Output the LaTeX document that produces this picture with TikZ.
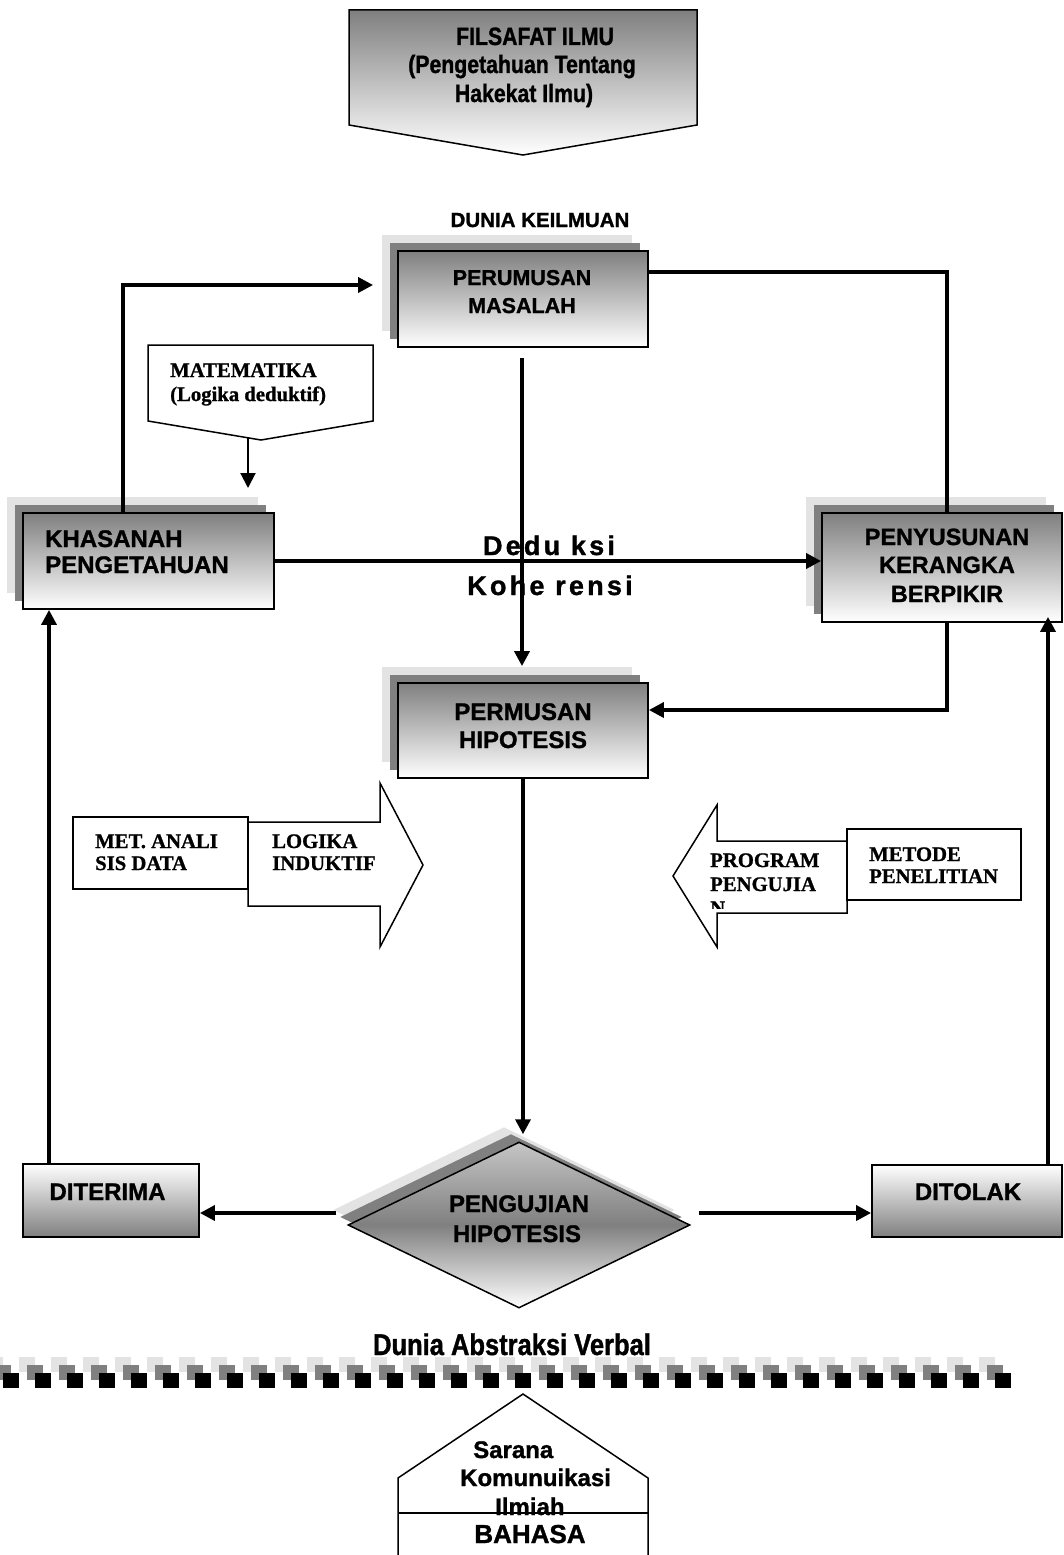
\documentclass[tikz,border=0pt]{standalone}
\usepackage{fontspec}
\setmainfont{Liberation Sans}
\newfontfamily\bsans{Liberation Sans Bold}[FakeBold=1.2]
\newfontfamily\bnarrow{Liberation Sans Bold}[FakeStretch=0.85, FakeBold=1.2]
\newfontfamily\bspaced{Liberation Sans Bold}[LetterSpace=12, FakeBold=1.2]
\newfontfamily\btimes{Liberation Serif Bold}[FakeBold=1]
\usetikzlibrary{arrows.meta,shapes.geometric,shadows,calc}
\definecolor{shlight}{HTML}{E3E3E3}
\definecolor{shdark}{HTML}{808080}
\newcommand\myfs[1]{\fontsize{#1}{#1}\selectfont}
\begin{document}
\begin{tikzpicture}[x=1pt,y=-1pt,
  shadowbox/.style={rectangle, draw=black, line width=1.8pt, top color=gray, bottom color=white, inner sep=0pt,
    general shadow={fill=shlight, shadow xshift=-16pt, shadow yshift=16pt},
    general shadow={fill=shdark, shadow xshift=-8pt, shadow yshift=8pt}},
  resultbox/.style={rectangle, draw=black, line width=1.8pt, top color=white, bottom color=gray, inner sep=0pt},
  txt/.style={inner sep=0pt, anchor=base, font=\bsans\myfs{#1}},
  txt/.default=22,
  ltxt/.style={inner sep=0pt, anchor=base west, font=\bsans\myfs{#1}},
  ltxt/.default=24,
  ttxt/.style={inner sep=0pt, anchor=base west, font=\btimes\myfs{20.7}},
  thinshape/.style={draw=black, line width=1.5pt, fill=white},
  conn/.style={line width=3.5pt},
  arr/.style={conn, -{Triangle[length=15pt,width=15pt]}},
  thinarr/.style={line width=2pt, -{Triangle[length=15pt,width=15pt]}}
]
\useasboundingbox (0,0) rectangle (1064,1555);

% ---- top pentagon: FILSAFAT ILMU
\path[draw=black, line width=1.5pt, top color=gray, bottom color=white]
  (349,10) -- (697,10) -- (697,125) -- (523,155) -- (349,125) -- cycle;
\node[txt, font=\bnarrow\myfs{25}] (f1) at (535,45) {FILSAFAT ILMU};
\node[txt, font=\bnarrow\myfs{25}] (f2) at (522,73) {(Pengetahuan Tentang};
\node[txt, font=\bnarrow\myfs{25}] (f3) at (524,102) {Hakekat Ilmu)};

\node[txt=20.5] (dunia) at (540,227) {DUNIA KEILMUAN};

% ---- main boxes
\node[shadowbox, minimum width=250pt, minimum height=96pt] (perumusan) at (523,299) {};
\node[shadowbox, minimum width=251pt, minimum height=96pt] (khasanah) at (148.5,561) {};
\node[shadowbox, minimum width=240pt, minimum height=109pt] (penyusunan) at (942,567.5) {};
\node[shadowbox, minimum width=250pt, minimum height=95pt] (permusan) at (523,730.5) {};
\node[resultbox, minimum width=176pt, minimum height=73pt] (diterima) at (111,1200.5) {};
\node[resultbox, minimum width=190pt, minimum height=72pt] (ditolak) at (967,1201) {};
\node[diamond, draw=black, line width=1.5pt, inner sep=0pt, minimum width=342pt, minimum height=166pt,
  top color=gray!45!white, bottom color=white, middle color=gray,
  general shadow={fill=shlight, shadow xshift=-15pt, shadow yshift=15pt},
  general shadow={fill=shdark, shadow xshift=-8pt, shadow yshift=8pt}] (uji) at (519,1225) {};

% ---- MATEMATIKA pentagon
\path[thinshape] (148,345) -- (373,345) -- (373,421) -- (261,440) -- (148,421) -- cycle;
\node[ttxt] (mat1) at (170,377) {MATEMATIKA};
\node[ttxt] (mat2) at (170,401) {(Logika deduktif)};
\coordinate (matA) at (248,438);
\coordinate (matB) at (248,488);
\draw[thinarr] (matA) -- (matB);

% ---- connectors
\draw[arr] ($(khasanah.north)+(-25.5,0)$) |- ($(perumusan.west)+(-24,-14)$);
\draw[conn] ($(perumusan.east)+(0,-27)$) -| ($(penyusunan.north)+(5,0)$);
\draw[arr] ($(perumusan.south)+(-1,10)$) -- ($(permusan.north)+(-1,-16)$);
\draw[arr] (khasanah.east) -- (khasanah.east -| penyusunan.west);
\draw[arr] ($(penyusunan.south)+(5,0)$) |- ($(permusan.east)+(0,-20.5)$);
\draw[arr] (permusan.south) -- ($(permusan.south |- uji.north)+(0,-7)$);
\coordinate (ujiL) at ($(uji.west)+(-11,-12)$);
\coordinate (ujiR) at ($(uji.east)+(8,-12)$);
\draw[arr] (ujiL) -- (ujiL -| diterima.east);
\draw[arr] (ujiR) -- (ujiR -| ditolak.west);
\coordinate (dtL) at ($(diterima.north)+(-62,0)$);
\draw[arr] (dtL) -- (dtL |- khasanah.south);
\coordinate (dtR) at ($(ditolak.north)+(81,0)$);
\draw[arr] (dtR) -- ($(dtR |- penyusunan.south)+(0,-6)$);

% ---- box texts
\node[txt=21.5] (pm1) at (522,285) {PERUMUSAN};
\node[txt=21.5] (pm2) at (522,313) {MASALAH};
\node[ltxt=24] (kh1) at (45,547) {KHASANAH};
\node[ltxt=24] (kh2) at (45,573) {PENGETAHUAN};
\node[txt=23.5] (py1) at (947,545) {PENYUSUNAN};
\node[txt=23.5] (py2) at (947,573) {KERANGKA};
\node[txt=23.5] (py3) at (947,602) {BERPIKIR};
\node[txt=24] (ph1) at (523,720) {PERMUSAN};
\node[txt=24] (ph2) at (523,748) {HIPOTESIS};
\node[txt=24] (dt1) at (107.5,1200) {DITERIMA};
\node[txt=24] (dt2) at (968,1200) {DITOLAK};
\node[txt=24] (uj1) at (519,1212) {PENGUJIAN};
\node[txt=24] (uj2) at (517,1242) {HIPOTESIS};
\node[inner sep=0pt, anchor=base, font=\bspaced\myfs{27}] (ded) at (549,555) {Dedu ksi};
\node[inner sep=0pt, anchor=base, font=\bspaced\myfs{27}] (koh) at (550,595) {Kohe rensi};

% ---- left: MET. ANALISIS DATA + LOGIKA INDUKTIF arrow
\path[thinshape] (73,817) rectangle (248,889);
\path[thinshape] (248,822) -- (380,822) -- (380,783) -- (423,865) -- (380,947) -- (380,906) -- (248,906) -- cycle;
\node[ttxt] (ma1) at (95,848) {MET. ANALI};
\node[ttxt] (ma2) at (95,870) {SIS DATA};
\node[ttxt] (li1) at (272,848) {LOGIKA};
\node[ttxt] (li2) at (272,870) {INDUKTIF};

% ---- right: PROGRAM PENGUJIAN arrow + METODE PENELITIAN
\path[thinshape] (847,841) -- (717,841) -- (717,805) -- (673,876) -- (717,947) -- (717,913) -- (847,913) -- cycle;
\path[thinshape] (847,829) rectangle (1021,900);
\node[ttxt] (pg1) at (710,867) {PROGRAM};
\node[ttxt] (pg2) at (710,891) {PENGUJIA};
\begin{scope}
  \clip (700,895) rectangle (760,908);
  \node[ttxt] (pg3) at (710,915) {N};
\end{scope}
\node[ttxt] (mp1) at (869,861) {METODE};
\node[ttxt] (mp2) at (869,883) {PENELITIAN};

% ---- Dunia Abstraksi Verbal + squares
\node[inner sep=0pt, anchor=base, font=\bnarrow\myfs{30}] (dav) at (512,1355) {Dunia Abstraksi Verbal};
\foreach \k in {0,...,31} {\fill[shlight] ({-13+32*\k},1357) rectangle ++(16,15);}
\foreach \k in {0,...,31} {\fill[shdark] ({-5+32*\k},1365) rectangle ++(16,15);}
\foreach \k in {0,...,31} {\fill[black] ({3+32*\k},1373) rectangle ++(16,15);}

% ---- house: Sarana Komunikasi Ilmiah / BAHASA
\node[ltxt=24] (sr1) at (473,1458) {Sarana};
\node[ltxt=24] (sr2) at (460,1486) {Komunuikasi};
\node[ltxt=24] (sr3) at (495,1515) {Ilmiah};
\node[txt=26] (bhs) at (530,1543) {BAHASA};
\draw[line width=1.5pt] (398,1560) -- (398,1478) -- (523,1394) -- (648,1478) -- (648,1560);
\draw[line width=1.5pt] (398,1513) -- (648,1513);
\end{tikzpicture}
\end{document}
